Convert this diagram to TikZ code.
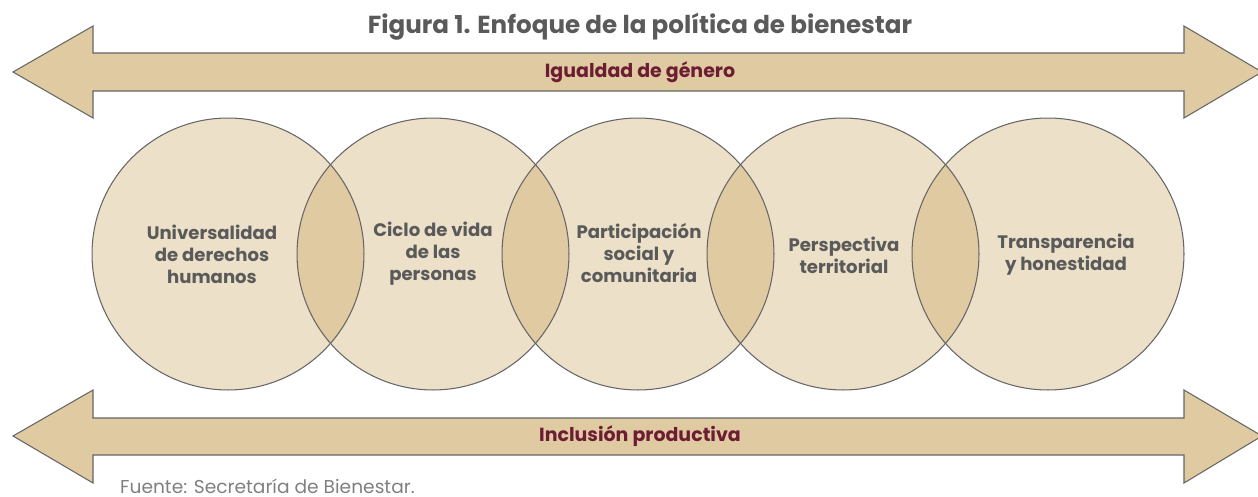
\documentclass[tikz,border=0pt]{standalone}
\usepackage{fontspec}
\setmainfont{Poppins}
\definecolor{arrowfill}{HTML}{E0CAA1}
\definecolor{ringfill}{HTML}{ECE0C9}
\definecolor{lensfill}{HTML}{E0CAA1}
\definecolor{edgegray}{HTML}{666666}
\definecolor{textgray}{HTML}{5A5A5A}
\definecolor{maroon}{HTML}{6C1D33}
\tikzset{
  ring/.style={circle,fill=ringfill,minimum size=5.44cm,inner sep=0pt},
  ringline/.style={draw=edgegray,line width=0.6pt},
  band/.style={fill=arrowfill,draw=edgegray,line width=0.6pt},
  txt/.style={align=center,text=textgray,font=\fontsize{10.3}{12.5}\selectfont\bfseries},
  bandtxt/.style={text=maroon,font=\fontsize{10.8}{12}\selectfont\bfseries},
}
\begin{document}
\begin{tikzpicture}[x=0.02cm,y=-0.02cm]
\useasboundingbox (0,0) rectangle (1258,497);
\node[text=textgray,font=\fontsize{14}{16}\selectfont\bfseries] (title) at (640,27) {Figura 1. Enfoque de la política de bienestar};
% arrows
\draw[band] (13,72) -- (93,26) -- (93,53) -- (1184,53) -- (1184,26) -- (1262,72) -- (1184,118) -- (1184,91) -- (93,91) -- (93,118) -- cycle;
\draw[band] (13,436) -- (93,390) -- (93,418) -- (1184,418) -- (1184,390) -- (1262,436) -- (1184,483) -- (1184,455) -- (93,455) -- (93,483) -- cycle;
\node[bandtxt] (top) at (640,72) {Igualdad de género};
\node[bandtxt] (bottom) at (640,436) {Inclusión productiva};
% circles
\foreach \i in {1,...,5}
  \node[ring] (c\i) at ({23+205*\i},254) {};
\foreach \i/\j in {1/2,2/3,3/4,4/5}{
  \begin{scope}
    \clip (c\i) circle[radius=2.72cm];
    \fill[lensfill] (c\j) circle[radius=2.72cm];
  \end{scope}
}
\foreach \i in {1,...,5}
  \draw[ringline] (c\i) circle[radius=2.72cm];
\node[txt] (t1) at (212,254) {Universalidad\\de derechos\\humanos};
\node[txt] (t2) at (433,254) {Ciclo de vida\\de las\\personas};
\node[txt] (t3) at (639,253) {Participación\\social y\\comunitaria};
\node[txt] (t4) at (844,255) {Perspectiva\\territorial};
\node[txt] (t5) at (1066,255) {Transparencia\\y honestidad};
\node[anchor=base west,text=gray,font=\fontsize{10.6}{12}\selectfont] (src) at (114,493) {Fuente: Secretaría de Bienestar.};
\end{tikzpicture}
\end{document}
